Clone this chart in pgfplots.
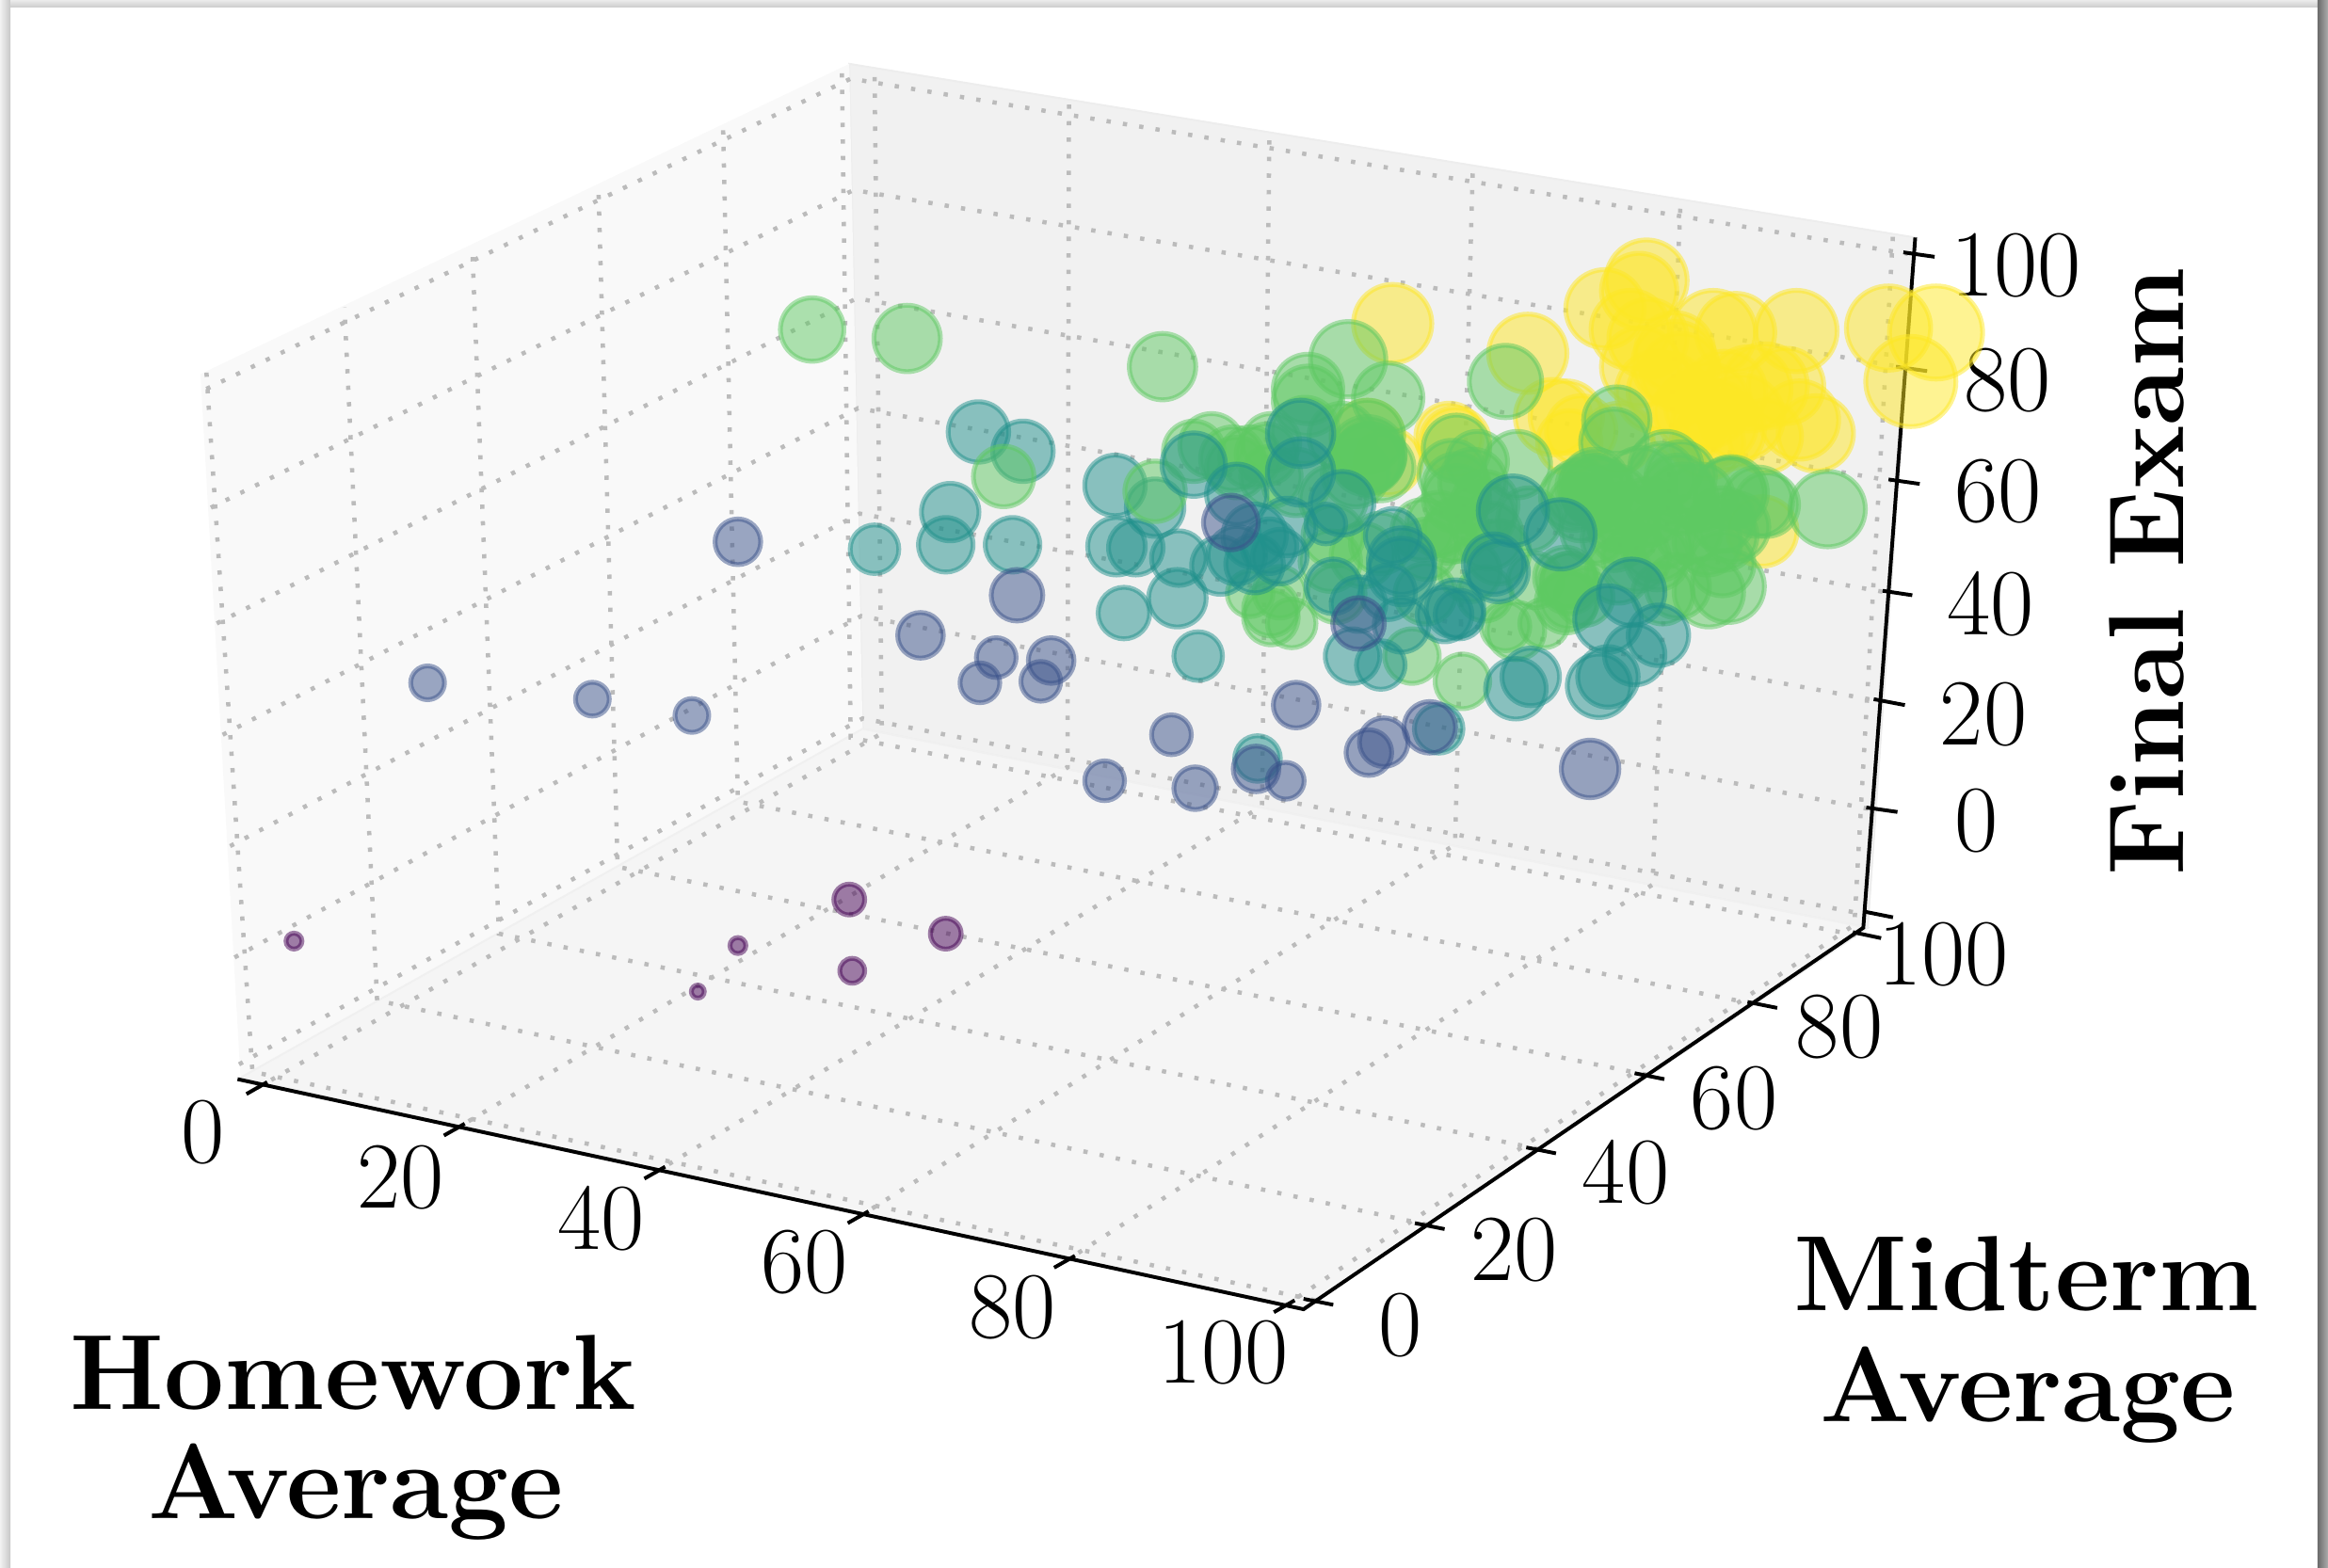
\documentclass[border=0pt]{standalone}
\usepackage{fontspec}
\usepackage{pgfplots}
\usepackage{pgfplotstable}
\pgfplotsset{compat=1.18}
\definecolor{gridc}{HTML}{BBBBBB}
\pgfplotstableread{
x y r c
938 218 28 4
1109 189 29 4
1104 196 27 4
1081 208 28 4
1098 222 28 4
1110 228 28 4
1154 224 30 4
1169 224 28 4
1210 223 29 4
1272 221 30 4
1304 224 33 4
1287 257 32 4
1029 238 28 4
1046 281 27 4
1055 281 26 4
1128 245 30 4
1128 237 28 4
1116 264 29 4
1132 251 28 4
1150 273 30 4
1162 264 29 4
1178 262 30 4
1189 260 30 4
1203 260 27 4
1212 283 28 4
1223 292 27 4
1155 285 30 4
1173 281 30 4
1141 277 28 4
1150 298 26 4
1162 290 28 4
1137 283 29 4
1123 264 28 4
1105 247 28 4
1189 294 26 4
1187 358 25 4
976 294 24 4
921 294 26 4
935 311 24 4
1057 298 23 4
1065 290 25 4
1090 295 25 4
980 298 25 4
547 222 23 3
611 228 24 3
783 247 24 3
908 242 27 3
935 268 25 3
881 262 25 3
881 270 25 3
1014 257 26 3
804 304 22 3
816 300 23 3
830 309 23 3
853 306 22 3
842 308 22 3
856 298 21 3
879 290 24 3
904 294 24 3
921 294 26 3
930 315 24 3
913 319 24 3
898 336 24 3
833 315 22 3
856 321 22 3
873 325 24 3
896 378 22 3
918 374 23 3
900 400 21 3
960 400 22 3
1000 400 20 3
990 385 22 3
1040 420 18 3
870 420 18 3
1130 395 23 3
1120 400 22 3
1160 380 23 3
1090 385 23 3
958 357 22 3
981 336 24 3
998 347 24 3
969 353 23 3
992 325 24 3
981 357 23 3
1003 361 24 3
1009 372 23 3
1074 325 24 3
1065 342 24 3
1088 336 24 3
1105 325 25 3
1122 315 26 3
1133 336 25 3
1094 357 25 3
1116 368 25 3
1074 357 24 3
1102 376 24 3
1034 391 20 3
1119 321 24 3
1132 321 25 3
1166 332 26 3
1184 338 25 3
1160 361 25 3
1116 376 23 3
1137 357 24 3
1094 347 23 3
1076 332 25 3
1064 332 24 3
1087 363 23 3
1057 391 20 3
1055 406 22 3
921 306 27 3
922 309 25 3
923 307 25 3
920 310 25 3
981 302 24 3
978 319 24 3
995 311 22 3
1022 313 24 3
1089 283 24 3
1087 298 24 3
1000 340 24 3
1030 350 23 3
1060 335 24 3
1075 330 25 3
1090 350 23 3
1110 345 24 3
1130 330 25 3
1145 335 24 3
1160 350 23 3
1165 332 25 3
1120 360 24 3
1150 365 24 3
1168 355 25 3
1190 340 23 3
1231 343 27 3
1164 395 26 3
1151 399 25 3
1057 404 21 3
1067 402 21 3
1014 422 18 3
1021 425 21 3
985 459 20 3
951 442 20 3
1057 393 22 3
856 410 20 3
842 400 17 3
862 399 19 3
898 361 22 3
930 366 22 3
961 370 22 3
975 361 20 3
1071 328 24 3
981 328 24 3
856 416 20 3
1054 389 22 3
659 291 22 2
689 304 22 2
640 345 21 2
637 367 20 2
682 367 20 2
589 370 18 2
751 327 22 2
752 368 21 2
765 369 20 2
757 413 19 2
793 403 21 2
807 442 18 2
778 342 21 2
847 511 17 2
676 321 22 3
778 331 22 3
804 313 23 2
876 292 24 2
876 318 24 2
833 333 22 2
794 376 20 2
822 381 21 2
833 374 21 2
845 361 23 2
845 380 21 2
855 368 20 2
862 375 20 2
867 355 21 2
904 339 23 2
938 361 20 2
893 353 15 2
944 385 24 2
944 378 24 2
898 395 20 2
915 407 20 2
935 399 20 2
973 414 20 2
980 410 21 2
944 421 20 2
1009 385 22 2
983 414 18 2
911 442 20 2
930 448 18 2
1019 344 25 2
1051 360 25 2
1006 380 22 2
1099 399 24 2
1083 417 24 2
1117 428 22 2
1101 441 22 2
1031 456 21 2
1021 464 22 2
1083 456 22 2
1077 462 23 2
969 491 18 2
288 460 13 1
399 471 13 1
466 482 13 1
497 365 17 1
620 428 17 1
685 401 19 1
671 443 15 1
708 445 17 1
660 460 15 1
701 459 15 1
744 526 15 1
789 495 15 1
805 531 16 1
866 526 14 1
873 475 17 1
846 518 17 1
932 500 18 1
922 507 17 1
963 490 19 1
1071 518 21 1
829 352 20 1
915 420 19 1
198 634 7 0
497 637 7 0
470 668 6 0
572 606 12 0
574 654 10 0
637 629 12 0
}\students
\newcommand{\grid}[6]{\addplot[gridc,line width=1.15pt,dash pattern=on 1.15pt off 3.3pt] coordinates {(#1,#2) (#3,#4) (#5,#6)};}
\newcommand{\tk}[4]{\addplot[black,line width=1pt] coordinates {(#1,#2) (#3,#4)};}
\newcommand{\nm}{\fontsize{25.5}{25.5}\selectfont}
\newcommand{\tl}{\fontsize{28.8}{28.8}\selectfont\bfseries}
\begin{document}
\begin{tikzpicture}
\useasboundingbox (0,0) rectangle (627.2pt,422.4pt);
\begin{axis}[at={(0,0)},anchor=south west,width=627.2pt,height=422.4pt,scale only axis,
  xmin=0,xmax=1568,ymin=0,ymax=1056,y dir=reverse,hide axis,clip=false,
  colormap={vir}{rgb255(0)=(68,1,84) rgb255(1)=(59,82,139) rgb255(2)=(33,145,140) rgb255(3)=(94,201,98) rgb255(4)=(253,231,37)},
  point meta min=0,point meta max=4]
% page shadow
\shade[left color=black!5,right color=black!22] (axis cs:0,0) rectangle (axis cs:7,1056);
\shade[top color=black!8,bottom color=black!20] (axis cs:7,0) rectangle (axis cs:1561,5);
\shade[left color=black!58,right color=black!32] (axis cs:1561,0) rectangle (axis cs:1568,1056);
% panes
\addplot[fill=black!5.5,draw=black!7,line width=.5pt] coordinates {(572,43) (1290,160) (1258,625) (581,491)} -- cycle;
\addplot[fill=black!2.5,draw=none] coordinates {(135,252) (572,43) (581,491) (162,726)} -- cycle;
\addplot[fill=black!4,draw=black!6,line width=.5pt] coordinates {(162,726) (581,491) (1258,625) (878,882)} -- cycle;
% grid
\grid{173}{733}{594}{494}{589}{46}
\grid{306}{761}{719}{517}{720}{67}
\grid{441}{790}{850}{543}{855}{89}
\grid{578}{820}{980}{569}{992}{112}
\grid{717}{850}{1113}{596}{1132}{134}
\grid{865}{880}{1249}{623}{1275}{158}
\grid{886}{876}{170}{722}{139}{250}
\grid{961}{825}{254}{674}{232}{207}
\grid{1036}{774}{336}{629}{318}{165}
\grid{1109}{724}{416}{584}{403}{124}
\grid{1180}{676}{497}{540}{487}{85}
\grid{1250}{630}{573}{497}{567}{47}
\grid{139}{262}{573}{53}{1285}{171}
\grid{142}{342}{575}{128}{1279}{247}
\grid{146}{420}{577}{201}{1274}{324}
\grid{150}{495}{578}{275}{1270}{399}
\grid{155}{570}{579}{346}{1264}{472}
\grid{158}{645}{580}{415}{1259}{545}
\grid{161}{717}{581}{484}{1256}{616}
% axis lines and ticks
\addplot[black,line width=1pt] coordinates {(160,727) (878,882) (1255,625) (1290,160)};
\tk{166}{737}{180}{729}\tk{299}{765}{313}{757}\tk{434}{794}{448}{786}\tk{571}{824}{585}{816}\tk{710}{854}{724}{846}\tk{858}{884}{872}{876}
\tk{878}{875}{898}{879}\tk{953}{824}{973}{828}\tk{1028}{773}{1048}{777}\tk{1101}{723}{1121}{727}\tk{1177}{675}{1197}{679}\tk{1248}{628}{1267}{632}
\tk{1282}{170}{1303}{173}\tk{1277}{247}{1298}{250}\tk{1272}{323}{1293}{326}\tk{1268}{398}{1288}{401}\tk{1262}{471}{1283}{475}\tk{1257}{544}{1278}{547}\tk{1255}{614}{1275}{618}
% scatter
\addplot[scatter,only marks,mark=*,mark options={line width=1.3pt},
  point meta=\thisrow{c},
  scatter/use mapped color={draw=mapped color,fill=mapped color,fill opacity=.5,draw opacity=.5},
  visualization depends on={\thisrow{r} \as \rr},
  scatter/@pre marker code/.append style={/tikz/mark size=\rr*0.4-0.65}]
  table[x=x,y=y] {\students};
% labels
\foreach \px/\py/\t in {137/763/0,270/793/20,405/821/40,542/850/60,682/881/80,824/911/100,
  943/893/0,1020/842/20,1095/790/40,1168/740/60,1239/692/80,1309/643/100,
  1358/179/100,1352/256/80,1346/331/60,1341/407/40,1336/481/20,1331/553/0}{
  \edef\tmp{\noexpand\node[font=\noexpand\nm,inner sep=0pt] at (axis cs:\px,\py) {\t};}\tmp
}
\node[font=\tl,inner sep=0pt] at (axis cs:238,925) {Homework};
\node[font=\tl,inner sep=0pt] at (axis cs:240,1005) {Average};
\node[font=\tl,inner sep=0pt] at (axis cs:1365,858) {Midterm};
\node[font=\tl,inner sep=0pt] at (axis cs:1366,940) {Average};
\node[font=\tl,inner sep=0pt,rotate=90] at (axis cs:1446,385) {Final Exam};
\end{axis}
\end{tikzpicture}
\end{document}
